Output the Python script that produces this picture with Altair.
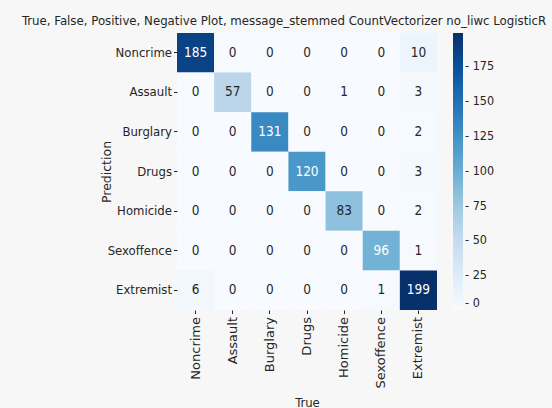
import altair as alt
import pandas as pd

# Confusion matrix: rows are predicted classes, columns are true classes
classes = ["Noncrime", "Assault", "Burglary", "Drugs", "Homicide", "Sexoffence", "Extremist"]
row_noncrime = [185, 0, 0, 0, 0, 0, 10]
row_assault = [0, 57, 0, 0, 1, 0, 3]
row_burglary = [0, 0, 131, 0, 0, 0, 2]
row_drugs = [0, 0, 0, 120, 0, 0, 3]
row_homicide = [0, 0, 0, 0, 83, 0, 2]
row_sexoffence = [0, 0, 0, 0, 0, 96, 1]
row_extremist = [6, 0, 0, 0, 0, 1, 199]
colorbar_ticks = [0, 25, 50, 75, 100, 125, 150, 175]
title_text = "True, False, Positive, Negative Plot, message_stemmed CountVectorizer no_liwc LogisticR"

rows = [row_noncrime, row_assault, row_burglary, row_drugs,
        row_homicide, row_sexoffence, row_extremist]
records = []
for pred, counts in zip(classes, rows):
    for true, n in zip(classes, counts):
        records.append({"pred": pred, "true": true, "n": n})
df = pd.DataFrame(records)

# matplotlib-style "Blues" ramp, spread evenly over the count range
blues = ["#f7fbff", "#deebf7", "#c6dbef", "#9ecae1", "#6baed6",
         "#4292c6", "#2171b5", "#08519c", "#08306b"]
vmax = int(df["n"].max())
stops = [vmax * i / (len(blues) - 1) for i in range(len(blues))]

NARROW = "Liberation Sans Narrow, DejaVu Sans Condensed, sans-serif"
ROT = "DejaVu Sans, sans-serif"
INK = "#262626"

base = alt.Chart(df).encode(
    x=alt.X("true:N", sort=classes, scale=alt.Scale(paddingInner=0, paddingOuter=0),
            axis=alt.Axis(title="True", labelAngle=270, labelAlign="right",
                          labelBaseline="middle", labelFont=ROT, labelFontSize=13,
                          labelPadding=3, tickSize=3.5, titleFont=NARROW,
                          titleFontSize=13, titleY=96, titleBaseline="alphabetic")),
    y=alt.Y("pred:N", sort=classes, scale=alt.Scale(paddingInner=0, paddingOuter=0),
            axis=alt.Axis(title="Prediction", labelFont=NARROW, labelFontSize=13,
                          labelPadding=2, tickSize=3.5, titleFont=ROT,
                          titleFontSize=12.5, titleX=-64, titleY=138.5,
                          titleBaseline="bottom")),
)

cells = base.mark_rect().encode(
    color=alt.Color("n:Q",
                    scale=alt.Scale(domain=stops, range=blues),
                    legend=alt.Legend(title=None, orient="none", legendX=276, legendY=0,
                                      direction="vertical", gradientLength=277,
                                      gradientThickness=10, gradientStrokeWidth=0,
                                      values=colorbar_ticks, labelOverlap=False,
                                      labelExpr="'- ' + datum.label",
                                      labelBaseline="middle", labelOffset=2,
                                      labelFont=NARROW, labelFontSize=12.5,
                                      labelColor=INK)),
)

labels = base.mark_text(font=NARROW, fontSize=13.5).encode(
    text=alt.Text("n:Q"),
    color=alt.condition("datum.n > 90", alt.value("white"), alt.value(INK)),
)

chart = (cells + labels).properties(
    width=260,
    height=277,
    title=alt.TitleParams(
        title_text,
        font=NARROW, fontSize=13.1, fontWeight="normal", color=INK,
        anchor="start", frame="group", dx=-155, dy=-2, offset=3),
    autosize=alt.AutoSizeParams(type="none"),
    padding={"left": 177, "top": 33, "right": 115, "bottom": 98},
    background="#f7f7f7",
).configure_axis(
    domain=False,
    labelColor=INK,
    tickColor=INK,
    titleColor=INK,
    titleFontWeight="normal",
    grid=False,
).configure_view(strokeWidth=0)

chart.save("out.html", embed_options={"renderer": "svg", "actions": False})
